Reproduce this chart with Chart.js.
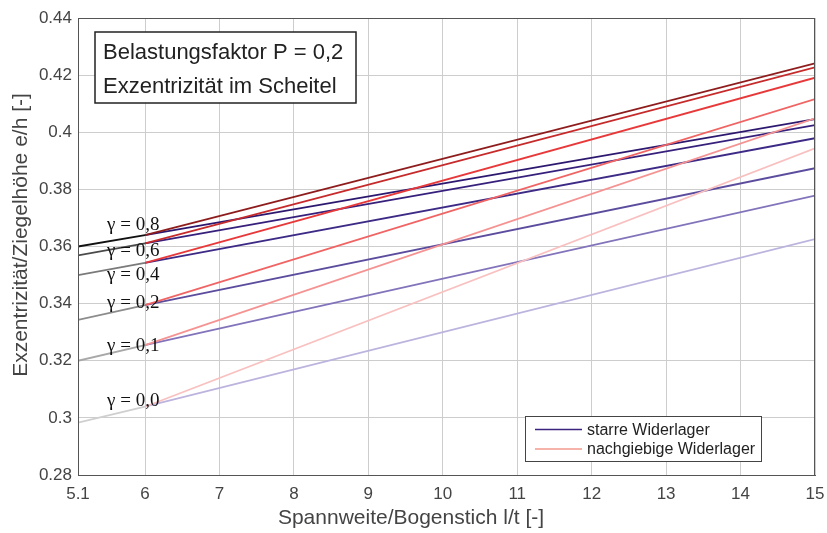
<!DOCTYPE html>
<html>
<head>
<meta charset="utf-8">
<script src="https://cdn.jsdelivr.net/npm/chart.js@4.4.0/dist/chart.umd.min.js"></script>
<style>
  html, body { margin: 0; padding: 0; background: #fff; }
  canvas { display: block; }
</style>
</head>
<body>
<canvas id="chart" width="827" height="533"></canvas>
<script>
// values
const xTicks = [5.1, 6, 7, 8, 9, 10, 11, 12, 13, 14, 15];
const yTicks = [0.28, 0.3, 0.32, 0.34, 0.36, 0.38, 0.4, 0.42, 0.44];

const gammaLabels = ['γ = 0,8', 'γ = 0,6', 'γ = 0,4', 'γ = 0,2', 'γ = 0,1', 'γ = 0,0'];
const gammaLabelX = 5.49;
const gammaLabelY = [0.3675, 0.3585, 0.3500, 0.3403, 0.3250, 0.3060];

const xStart = 5.1;
const xSix = 6;
const xEnd = 15;
const eStart = [0.3600, 0.3569, 0.3500, 0.3343, 0.3200, 0.2983];   // at l/t = 5.1
const eSix = [0.3640, 0.3611, 0.3543, 0.3395, 0.3255, 0.3039];     // at l/t = 6
const eEndStarr = [0.4046, 0.4025, 0.3979, 0.3874, 0.3778, 0.3626];
const eEndNachg = [0.4241, 0.4227, 0.4191, 0.4116, 0.4049, 0.3944];

const legendLabels = ['starre Widerlager', 'nachgiebige Widerlager'];
const infoLines = ['Belastungsfaktor P = 0,2', 'Exzentrizität im Scheitel'];
const xTitle = 'Spannweite/Bogenstich l/t [-]';
const yTitle = 'Exzentrizität/Ziegelhöhe e/h [-]';

const grayColors = ['#111111', '#4a4a4a', '#7a7a7a', '#8c8c8c', '#a8a8a8', '#cfcfcf'];
const redColors = ['#8e1c1c', '#c62a2a', '#e8393a', '#f06464', '#f59393', '#f9c0c0'];
const blueColors = ['#2d1870', '#36207c', '#3d2a86', '#5c4c9e', '#8273bb', '#bcb4de'];

const datasets = [];
eSix.forEach(function (v, i) {
    datasets.push({
        data: [{ x: xStart, y: eStart[i] }, { x: xSix, y: v }],
        borderColor: grayColors[i]
    });
});
eSix.forEach(function (v, i) {
    datasets.push({
        data: [{ x: xSix, y: v }, { x: xEnd, y: eEndNachg[i] }],
        borderColor: redColors[i]
    });
});
eSix.forEach(function (v, i) {
    datasets.push({
        data: [{ x: xSix, y: v }, { x: xEnd, y: eEndStarr[i] }],
        borderColor: blueColors[i]
    });
});
datasets.forEach(function (d) {
    d.borderWidth = 1.8;
    d.pointRadius = 0;
    d.fill = false;
    d.tension = 0;
});

const overlay = {
    id: 'overlay',
    afterDraw(chart) {
        const { ctx, chartArea: a, scales: { x, y } } = chart;
        ctx.save();

        // frame
        ctx.strokeStyle = '#555';
        ctx.lineWidth = 1;
        ctx.strokeRect(a.left + 0.5, a.top + 0.5, a.right - a.left - 1, a.bottom - a.top);

        // gamma labels
        ctx.fillStyle = '#111';
        ctx.font = '19px "Liberation Serif", "Times New Roman", serif';
        ctx.textBaseline = 'middle';
        ctx.textAlign = 'left';
        gammaLabels.forEach(function (t, i) {
            ctx.fillText(t, x.getPixelForValue(gammaLabelX), y.getPixelForValue(gammaLabelY[i]));
        });

        // info box
        ctx.fillStyle = '#fff';
        ctx.fillRect(95, 32, 261, 71);
        ctx.strokeStyle = '#222';
        ctx.lineWidth = 1.5;
        ctx.strokeRect(95, 32, 261, 71);
        ctx.fillStyle = '#222';
        ctx.font = '22px "Liberation Sans", Arial, sans-serif';
        ctx.textBaseline = 'alphabetic';
        ctx.fillText(infoLines[0], 103, 59);
        ctx.fillText(infoLines[1], 103, 93);

        // legend box
        ctx.fillStyle = '#fff';
        ctx.fillRect(525.5, 416.5, 236, 45);
        ctx.strokeStyle = '#444';
        ctx.lineWidth = 1;
        ctx.strokeRect(525.5, 416.5, 236, 45);
        const legColors = ['#3a2480', '#f29a8c'];
        ctx.font = '16px "Liberation Sans", Arial, sans-serif';
        ctx.textBaseline = 'middle';
        legendLabels.forEach(function (t, i) {
            const ly = 429.5 + i * 19.5;
            ctx.strokeStyle = legColors[i];
            ctx.lineWidth = 1.5;
            ctx.beginPath();
            ctx.moveTo(535, ly);
            ctx.lineTo(582, ly);
            ctx.stroke();
            ctx.fillStyle = '#222';
            ctx.fillText(t, 587, ly + 1);
        });

        // axis titles
        ctx.fillStyle = '#444';
        ctx.font = '21px "Liberation Sans", Arial, sans-serif';
        ctx.textAlign = 'center';
        ctx.textBaseline = 'middle';
        ctx.fillText(xTitle, 411, 518);
        ctx.translate(21, 235);
        ctx.rotate(-Math.PI / 2);
        ctx.fillText(yTitle, 0, 0);

        ctx.restore();
    }
};

new Chart(document.getElementById('chart'), {
    type: 'line',
    data: { datasets: datasets },
    options: {
        responsive: false,
        animation: false,
        layout: {
            padding: { top: 18, right: 12, left: 0, bottom: 0 }
        },
        scales: {
            x: {
                type: 'linear',
                min: 5.1,
                max: 15,
                afterBuildTicks: function (scale) {
                    scale.ticks = xTicks.map(function (v) { return { value: v }; });
                },
                afterFit: function (scale) {
                    scale.height = 58;
                    scale.paddingLeft = 0;
                    scale.paddingRight = 0;
                },
                ticks: {
                    color: '#444',
                    font: { family: '"Liberation Sans", Arial, sans-serif', size: 17 },
                    padding: 9,
                    maxRotation: 0,
                    autoSkip: false,
                    callback: function (value) { return String(+value.toFixed(1)); }
                },
                grid: { color: '#cdcdcd', lineWidth: 1, drawTicks: false },
                border: { color: '#555' }
            },
            y: {
                min: 0.28,
                max: 0.44,
                afterBuildTicks: function (scale) {
                    scale.ticks = yTicks.map(function (v) { return { value: v }; });
                },
                afterFit: function (scale) {
                    scale.width = 78;
                    scale.paddingTop = 0;
                    scale.paddingBottom = 0;
                },
                ticks: {
                    color: '#444',
                    font: { family: '"Liberation Sans", Arial, sans-serif', size: 17 },
                    padding: 6,
                    autoSkip: false,
                    callback: function (value) { return String(+value.toFixed(2)); }
                },
                grid: { color: '#cdcdcd', lineWidth: 1, drawTicks: false },
                border: { color: '#555' }
            }
        },
        plugins: {
            legend: { display: false },
            tooltip: { enabled: false }
        }
    },
    plugins: [overlay]
});
</script>
</body>
</html>
